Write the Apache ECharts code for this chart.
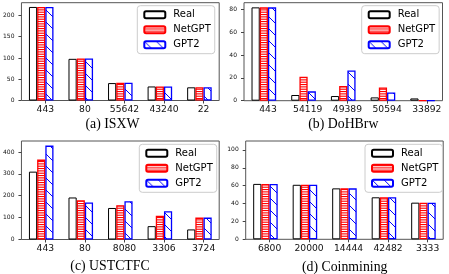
<!DOCTYPE html>
<html><head><meta charset="utf-8">
<script src="https://cdn.jsdelivr.net/npm/echarts@6/dist/echarts.min.js"></script>
<style>html,body{margin:0;padding:0;background:#fff}#c{width:449px;height:274px}</style>
</head><body><div id="c"></div>
<script>
// ---- data ----
const seriesNames = ['Real', 'NetGPT', 'GPT2'];

const isxwCats = ['443', '80', '55642', '43240', '22'];
const isxwReal = [220, 98, 41, 33, 31];
const isxwNetGPT = [220, 99, 42, 33, 31];
const isxwGPT2 = [220, 99, 42, 33, 31];

const dohCats = ['443', '54119', '49389', '50594', '33892'];
const dohReal = [82, 5, 4.1, 2.9, 2];
const dohNetGPT = [82, 21, 13, 11.7, 0.3];
const dohGPT2 = [82, 8.2, 26.6, 7.3, 0.2];

const ustcCats = ['443', '80', '8080', '3306', '3724'];
const ustcReal = [310, 192, 144, 61, 46];
const ustcNetGPT = [365, 179, 157, 108, 100];
const ustcGPT2 = [429, 169, 175, 129, 100];

const coinCats = ['6800', '20000', '14444', '42482', '3333'];
const coinReal = [62, 61, 57, 47, 41];
const coinNetGPT = [62, 61, 57, 47, 41];
const coinGPT2 = [62, 61, 57, 47, 41];

const captions = ['(a) ISXW', '(b) DoHBrw', '(c) USTCTFC', '(d) Coinmining'];
const yMax = [230, 86.1, 450, 110];
const yInterval = [50, 20, 100, 20];

// ---- styles / layout ----
function hatchH(color) {
  const c = document.createElement('canvas'); c.width = 4; c.height = 7;
  const x = c.getContext('2d'); x.fillStyle = '#fff'; x.fillRect(0, 0, 4, 7);
  x.fillStyle = color;
  [0, 2.33, 4.67].forEach(y => x.fillRect(0, y, 4, 1.1));
  return { image: c, repeat: 'repeat' };
}
function hatchD(color) {
  const s = 12;
  const c = document.createElement('canvas'); c.width = s; c.height = s;
  const x = c.getContext('2d'); x.fillStyle = '#fff'; x.fillRect(0, 0, s, s);
  x.strokeStyle = color; x.lineWidth = 1;
  x.beginPath();
  x.moveTo(-1, -1); x.lineTo(s + 1, s + 1);
  x.moveTo(s - 1, -1); x.lineTo(s + 1, 1);
  x.moveTo(-1, s - 1); x.lineTo(1, s + 1);
  x.stroke();
  return { image: c, repeat: 'repeat' };
}
const styles = [
  { color: '#fff', borderColor: '#000', borderWidth: 1 },
  { color: hatchH('#ff0000'), borderColor: '#ff0000', borderWidth: 1.3 },
  { color: hatchD('#0000ff'), borderColor: '#0000ff', borderWidth: 1.3 }
];

const panels = [
  { cats: isxwCats, vals: [isxwReal, isxwNetGPT, isxwGPT2] },
  { cats: dohCats, vals: [dohReal, dohNetGPT, dohGPT2] },
  { cats: ustcCats, vals: [ustcReal, ustcNetGPT, ustcGPT2] },
  { cats: coinCats, vals: [coinReal, coinNetGPT, coinGPT2] }
];
const grids = [
  { left: 20.7, top: 2.7, width: 198.5, height: 97.8 },
  { left: 244, top: 2.7, width: 198.5, height: 98 },
  { left: 20.7, top: 141, width: 198.5, height: 98.5 },
  { left: 245.7, top: 141, width: 197.5, height: 98.3 }
];
const legendPos = [
  { left: 137.3, top: 5.7 }, { left: 361.7, top: 5.7 },
  { left: 139.3, top: 144.3 }, { left: 365, top: 144.3 }
];
const captionPos = [[112.5, 124], [343.3, 124], [110, 266], [344.7, 267]];
const tickShift = 0.105;

const sans = 'DejaVu Sans';
const option = {
  animation: false,
  backgroundColor: '#fff',
  grid: grids.map(g => Object.assign({ show: true, borderColor: '#555', borderWidth: 1, containLabel: false }, g)),
  xAxis: [],
  yAxis: [],
  legend: [],
  series: [],
  graphic: []
};
panels.forEach((p, i) => {
  option.xAxis.push({
    type: 'category', gridIndex: i, data: p.cats, position: 'bottom',
    axisLine: { show: false, onZero: false }, axisTick: { show: false }, axisLabel: { show: false }, splitLine: { show: false }
  });
  const pos = p.cats.map((c, k) => k + tickShift);
  option.xAxis.push({
    type: 'value', gridIndex: i, min: -0.5, max: p.cats.length - 0.5, position: 'bottom',
    axisLine: { show: false, onZero: false }, splitLine: { show: false },
    axisTick: { show: true, customValues: pos, length: 3, lineStyle: { color: '#444', width: 1 } },
    axisLabel: {
      show: true, customValues: pos, margin: 4.5,
      fontFamily: sans, fontSize: 9.2, color: '#111',
      formatter: v => p.cats[Math.round(v - tickShift)]
    }
  });
  option.yAxis.push({
    type: 'value', gridIndex: i, min: 0, max: yMax[i], interval: yInterval[i], position: 'left',
    axisLine: { show: false, onZero: false }, splitLine: { show: false },
    axisTick: { show: true, length: 3, lineStyle: { color: '#444', width: 1 } },
    axisLabel: {
      fontFamily: sans, fontSize: 6, color: '#111', margin: 7,
      showMaxLabel: false,
      formatter: v => (v % yInterval[i] === 0 && v <= yMax[i] ? String(v) : '')
    }
  });
  seriesNames.forEach((name, s) => {
    option.series.push({
      type: 'bar', name, xAxisIndex: i * 2, yAxisIndex: i,
      data: p.vals[s], barWidth: '20.7%', barGap: '0%',
      itemStyle: styles[s], emphasis: { disabled: true }
    });
  });
  option.legend.push({
    orient: 'vertical', left: legendPos[i].left, top: legendPos[i].top,
    data: seriesNames, itemWidth: 21, itemHeight: 7, itemGap: 5,
    padding: [4, 4, 4, 6],
    backgroundColor: 'rgba(255,255,255,0.8)', borderColor: '#ccc', borderWidth: 1, borderRadius: 3,
    textStyle: { fontFamily: sans, fontSize: 10, color: '#000', padding: [0, 0, 0, 3] },
    selectedMode: false
  });
  option.graphic.push({
    type: 'text', x: captionPos[i][0], y: captionPos[i][1],
    style: { text: captions[i], font: '13.8px "Liberation Serif"', fill: '#000', align: 'center', verticalAlign: 'middle' }
  });
});
const chart = echarts.init(document.getElementById('c'), null, { renderer: 'canvas' });
chart.setOption(option);
</script></body></html>
